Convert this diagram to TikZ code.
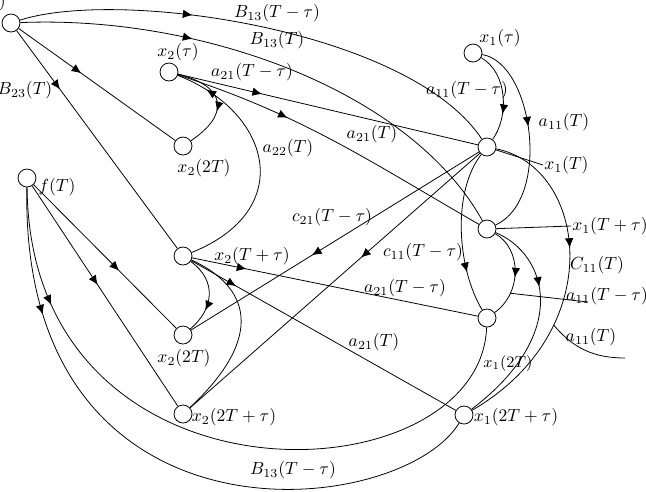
\documentclass[tikz,border=0pt]{standalone}
\usetikzlibrary{arrows.meta,decorations.markings}

\begin{document}
\begin{tikzpicture}[x=0.02cm,y=-0.02cm,line width=0.45pt,
    st/.style={circle,draw,inner sep=0pt,minimum size=0.36cm},
    ar/.style={postaction={decorate,decoration={markings,
        mark=at position #1 with {\arrow{Latex[length=5.5pt,width=4.8pt]}}}}},
    lb/.style={inner sep=0.5pt}]
    \useasboundingbox (0,0) rectangle (646,491);

    % states
    \node[st] (s) at (11,23) {};
    \node[st] (x2t) at (169,72) {};
    \node[st] (x2a) at (183,146) {};
    \node[st] (f) at (27,178) {};
    \node[st] (x2b) at (183,256) {};
    \node[st] (x2c) at (183,335) {};
    \node[st] (x2d) at (183,414) {};
    \node[st] (x1t) at (473,53) {};
    \node[st] (x1a) at (487,147) {};
    \node[st] (x1b) at (487,229) {};
    \node[st] (x1c) at (487,318) {};
    \node[st] (x1d) at (464,415) {};

    % state labels
    \node[lb,anchor=east] (ls) at (7,2) {$u(T)$};
    \node[lb] (lx2t) at (178,52) {$x_2(\tau)$};
    \node[lb] (lx2a) at (204,168) {$x_2(2T)$};
    \node[lb] (lf) at (57,187) {$f(T)$};
    \node[lb] (lx2b) at (252,256) {$x_2(T+\tau)$};
    \node[lb] (lx2c) at (184,358) {$x_2(2T)$};
    \node[lb] (lx2d) at (234,417) {$x_2(2T+\tau)$};
    \node[lb] (lx1t) at (500,38) {$x_1(\tau)$};
    \node[lb,anchor=west] (lx1a) at (543,165) {$x_1(T)$};
    \node[lb,anchor=west] (lx1b) at (571,226) {$x_1(T+\tau)$};
    \node[lb,font=\small] (lx1c) at (508,364) {$x_1(2T)$};
    \node[lb] (lx1d) at (516,417) {$x_1(2T+\tau)$};

    % weights
    \node[lb] (lb13a) at (277,13) {$B_{13}(T-\tau)$};
    \node[lb] (lb13b) at (277,40) {$B_{13}(T)$};
    \node[lb] (lb23) at (25,90) {$B_{23}(T)$};
    \node[lb] (la21a) at (252,72) {$a_{21}(T-\tau)$};
    \node[lb] (la22) at (288,148) {$a_{22}(T)$};
    \node[lb] (la21b) at (372,134) {$a_{21}(T)$};
    \node[lb] (la11a) at (467,90) {$a_{11}(T-\tau)$};
    \node[lb] (la11b) at (564,122) {$a_{11}(T)$};
    \node[lb] (lc21) at (332,217) {$c_{21}(T-\tau)$};
    \node[lb] (lc11) at (423,252) {$c_{11}(T-\tau)$};
    \node[lb] (lC11) at (597,265) {$C_{11}(T)$};
    \node[lb] (la21c) at (405,288) {$a_{21}(T-\tau)$};
    \node[lb] (la11c) at (607,296) {$a_{11}(T-\tau)$};
    \node[lb] (la11d) at (591,337) {$a_{11}(T)$};
    \node[lb] (la21d) at (374,342) {$a_{21}(T)$};
    \node[lb] (lb13c) at (293,470) {$B_{13}(T-\tau)$};

    % from the top left state
    \draw[ar=0.35] (s) .. controls (120,-12) and (410,30) .. (x1a);
    \draw[ar=0.33] (s) .. controls (200,15) and (410,90) .. (x1b);
    \draw[ar=0.4] (s) -- (x2a);
    \draw[ar=0.27] (s) -- (x2b);

    % x_2 column
    \draw[ar=0.6] (x2t) .. controls +(60,15) and +(45,-30) .. (x2a);
    \draw[ar=0.28] (x2t) -- (x1a);
    \draw (x1a) -- (lx1a.west);
    \draw[ar=0.35] (x2t) to[out=-18,in=150] (x1b);
    \draw[ar=0.87] (x2b) .. controls (297,210) and (272,112) .. (x2t);
    \draw[ar=0.19] (x2b) -- (x1c);
    \draw[ar=0.17] (x2b) -- (x1d);
    \draw[ar=0.7] (x2b) .. controls +(35,25) and +(30,-25) .. (x2c);
    \draw (x2b) .. controls +(75,35) and +(75,-70) .. (x2d);

    % x_1 column
    \draw[ar=0.7] (x1t) .. controls +(35,20) and +(22,-30) .. (x1a);
    \draw[ar=0.45] (x1t) .. controls +(60,10) and +(65,-30) .. (x1b);
    \draw[ar=0.75] (x1a) .. controls +(-35,45) and +(-30,-50) .. (x1c);
    \draw[ar=0.4] (x1a) .. controls +(100,20) and +(146,-85) .. (x1d)
        coordinate[pos=0.71] (p3);
    \draw[ar=0.58] (x1a) -- (x2c);
    \draw[ar=0.41] (x1a) -- (x2d);
    \draw[ar=0.55] (x1b) .. controls +(35,20) and +(35,-25) .. (x1c)
        coordinate[pos=0.74] (p1);
    \draw[ar=0.33] (x1b) .. controls +(60,25) and +(108,-82) .. (x1d);
    \draw (x1b) -- (lx1b.west);

    % from f(T)
    \draw[ar=0.6] (f) -- (x2c);
    \draw[ar=0.45] (f) -- (x2d);
    \draw[ar=0.18] (f) .. controls (30,520) and (480,500) .. (x1c);
    \draw[ar=0.2] (f) .. controls (20,560) and (400,520) .. (x1d);

    % loose ends
    \coordinate (p2) at (588,302);
    \draw (p1) -- (p2);
    \coordinate (p4) at (625,358);
    \draw (p3) to[out=-50,in=180] (p4);
\end{tikzpicture}
\end{document}
